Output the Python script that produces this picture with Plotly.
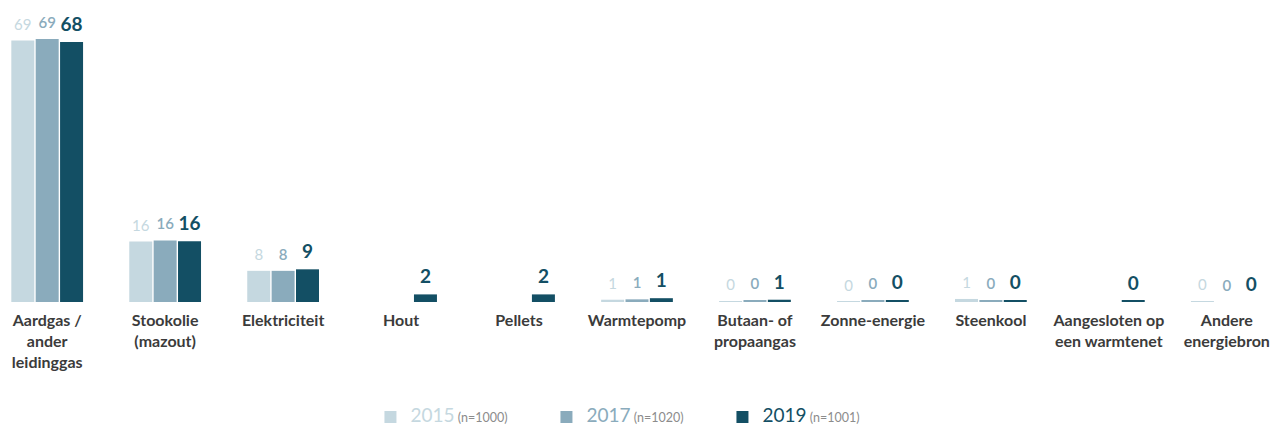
import plotly.graph_objects as go

categories = [
    "Aardgas /<br>ander<br>leidinggas",
    "Stookolie<br>(mazout)",
    "Elektriciteit",
    "Hout",
    "Pellets",
    "Warmtepomp",
    "Butaan- of<br>propaangas",
    "Zonne-energie",
    "Steenkool",
    "Aangesloten op<br>een warmtenet",
    "Andere<br>energiebron",
]

v2015 = [68.8, 15.9, 8.2, None, None, 0.6, 0.2, 0.1, 0.8, None, 0.2]
v2017 = [69.2, 16.2, 8.2, None, None, 0.7, 0.4, 0.4, 0.4, None, 0.0]
v2019 = [68.4, 16.0, 8.6, 2.0, 2.0, 1.0, 0.6, 0.4, 0.4, 0.3, 0.0]

series_years = ["2015", "2017", "2019"]
series_n = ["(n=1000)", "(n=1020)", "(n=1001)"]
series_values = [v2015, v2017, v2019]

colors = ["#c5d8e0", "#8aabbc", "#134f64"]
label_sizes = [15, 15, 19]
label_weights = ["normal", 600, "bold"]
label_marker = [10.0, 10.0, 8.4]

BARGAP = 0.38
BARGROUPGAP = 0.057
FONT = "Lato"

xs = list(range(len(categories)))
slot = (1 - BARGAP) / 3

fig = go.Figure()
for k, (yr, n, vals, col) in enumerate(zip(series_years, series_n, series_values, colors)):
    name = (f"<span style='font-size:19px;color:{col}'>{yr}</span>"
            f" <span style='font-size:12.5px;color:#8c8c8c'>{n}</span>")
    fig.add_trace(go.Bar(
        x=xs, y=vals, name=name, marker=dict(color=col, line=dict(width=0)),
        hoverinfo="skip",
    ))

for k, (vals, col) in enumerate(zip(series_values, colors)):
    px, py, pt = [], [], []
    for i, v in zip(xs, vals):
        if v is None:
            continue
        px.append(i + (k - 1) * slot)
        py.append(v)
        pt.append(str(round(v)))
    fig.add_trace(go.Scatter(
        x=px, y=py, text=pt, mode="markers+text", textposition="top center",
        marker=dict(size=label_marker[k], color="rgba(0,0,0,0)"),
        textfont=dict(family=FONT, size=label_sizes[k], color=col, weight=label_weights[k]),
        showlegend=False, hoverinfo="skip", cliponaxis=False,
    ))

fig.update_layout(
    width=1274, height=426,
    margin=dict(l=0, r=0, t=20, b=124),
    paper_bgcolor="white", plot_bgcolor="white",
    barmode="group", bargap=BARGAP, bargroupgap=BARGROUPGAP,
    hovermode=False,
    font=dict(family=FONT),
    xaxis=dict(
        range=[-0.4, len(categories) - 0.6],
        tickmode="array", tickvals=xs, ticktext=categories,
        tickfont=dict(family=FONT, size=16, color="#3b3b3b", weight="bold"),
        showgrid=False, zeroline=False, showline=False, ticks="",
        ticklabelstandoff=7,
    ),
    yaxis=dict(range=[0, 74.2], visible=False, showgrid=False, zeroline=False),
    legend=dict(
        orientation="h", xref="container", yref="container",
        x=0.498, xanchor="center", y=0.021, yanchor="middle",
        entrywidth=131, font=dict(family=FONT, size=13),
        bgcolor="rgba(0,0,0,0)",
    ),
)

fig.write_html(
    "out.html",
    config={"displayModeBar": False},
    post_script="document.body.style.margin='0';document.body.style.overflow='hidden';",
)
